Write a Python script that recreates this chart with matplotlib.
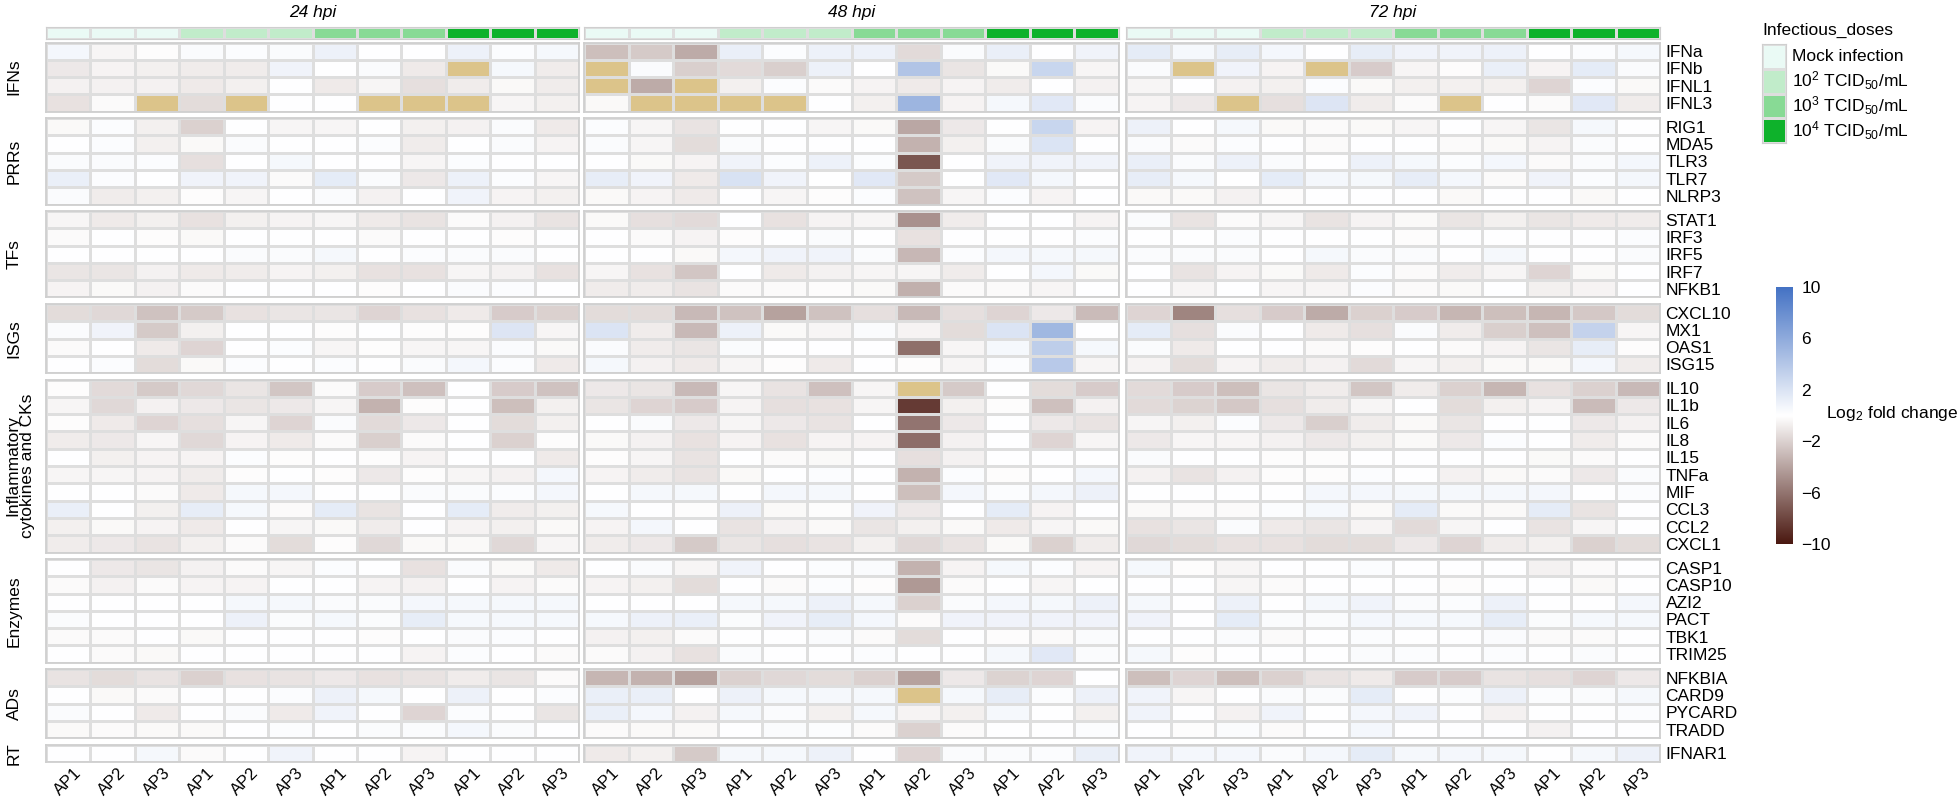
import numpy as np
import matplotlib.pyplot as plt
from matplotlib.colors import LinearSegmentedColormap, ListedColormap, Normalize
from matplotlib.cm import ScalarMappable

plt.rcParams['font.family'] = ['Liberation Sans', 'DejaVu Sans']
plt.rcParams['mathtext.fontset'] = 'custom'
plt.rcParams['mathtext.rm'] = 'Liberation Sans'
plt.rcParams['mathtext.it'] = 'Liberation Sans:italic'

nan = np.nan

# ---- data ----
timepoints = ['24 hpi', '48 hpi', '72 hpi']
isolates = ['AP1', 'AP2', 'AP3']
dose_labels = ['Mock infection', '10$^2$ TCID$_{50}$/mL', '10$^3$ TCID$_{50}$/mL', '10$^4$ TCID$_{50}$/mL']
dose_colors = ['#eafaf5', '#c1ecca', '#88da95', '#0eb22b']
group_names = ['IFNs', 'PRRs', 'TFs', 'ISGs', 'Inflammatory\ncytokines and CKs', 'Enzymes', 'ADs', 'RT']
group_sizes = [4, 5, 5, 4, 10, 6, 4, 1]
genes = ['IFNa', 'IFNb', 'IFNL1', 'IFNL3',
         'RIG1', 'MDA5', 'TLR3', 'TLR7', 'NLRP3',
         'STAT1', 'IRF3', 'IRF5', 'IRF7', 'NFKB1',
         'CXCL10', 'MX1', 'OAS1', 'ISG15',
         'IL10', 'IL1b', 'IL6', 'IL8', 'IL15', 'TNFa', 'MIF', 'CCL3', 'CCL2', 'CXCL1',
         'CASP1', 'CASP10', 'AZI2', 'PACT', 'TBK1', 'TRIM25',
         'NFKBIA', 'CARD9', 'PYCARD', 'TRADD',
         'IFNAR1']

# log2 fold change, columns: Mock, 10^2, 10^3, 10^4 x (AP1, AP2, AP3); nan = not detected
hpi24 = [
    [0.6, -0.4, -0.1, 0.3, 0.2, 0.3, 1.0, 0.0, 0.0, 1.0, 0.2, 0.5],
    [-1.0, -0.5, -0.7, -0.8, -0.8, 0.8, 0.0, 0.3, -0.9, nan, 0.5, -0.8],
    [-0.6, -0.6, -0.6, -0.9, -0.7, 0.0, -0.9, -0.4, -1.4, -0.8, -0.3, -0.8],
    [-1.3, -0.2, nan, -1.5, nan, 0.0, 0.0, nan, nan, nan, -0.4, -0.7],
    [-0.3, 0.2, -0.7, -2.0, 0.0, -0.4, -0.4, 0.0, -0.7, -0.6, 0.3, -0.9],
    [0.0, 0.2, -0.7, -0.3, 0.3, 0.0, 0.0, 0.2, -0.8, 0.0, 0.3, -0.5],
    [0.3, 0.3, 0.2, -1.4, 0.0, 0.5, 0.0, 0.0, -0.4, 0.2, 0.0, 0.0],
    [1.1, 0.2, 0.0, 0.8, 0.8, -0.2, 1.4, 0.3, -1.0, 1.0, 0.2, -0.4],
    [0.3, -0.8, -0.7, -0.1, -0.4, 0.0, 0.3, -0.6, 0.0, 0.8, -0.5, -0.7],
    [-0.4, -0.9, -0.7, -1.3, -0.7, -0.5, -0.4, -0.9, -1.2, -0.2, -0.6, -1.2],
    [-0.2, 0.0, -0.1, -0.3, 0.0, 0.0, 0.0, -0.2, 0.0, 0.0, -0.1, 0.0],
    [0.0, 0.0, 0.0, 0.0, 0.3, 0.3, 0.5, 0.0, 0.2, 0.3, 0.3, 0.0],
    [-1.1, -1.1, -0.6, -0.9, -0.8, -0.5, -0.7, -1.3, -1.3, -0.4, -0.6, -1.3],
    [-0.5, -0.3, -0.6, -0.2, 0.0, 0.0, 0.0, -0.1, 0.0, 0.3, 0.2, 0.0],
    [-1.5, -1.7, -2.6, -2.3, -1.3, -1.1, -1.1, -1.8, -1.3, -0.9, -2.2, -2.0],
    [0.3, 0.8, -2.3, -0.7, 0.0, 0.0, -0.1, 0.0, -0.1, -0.1, 1.8, -0.4],
    [-0.2, 0.0, -0.9, -1.8, 0.0, 0.2, -0.4, -0.1, -0.4, -0.4, 0.3, -0.3],
    [0.0, 0.2, -1.5, -0.3, 0.2, 0.0, 0.2, 0.0, 0.3, 0.6, 0.2, -0.9],
    [-0.1, -1.6, -2.3, -1.7, -1.1, -2.5, -0.2, -2.2, -2.7, 0.0, -2.2, -2.6],
    [-0.4, -1.7, -0.6, -1.0, -1.1, -1.0, -0.4, -3.3, -0.1, 0.0, -2.8, -0.7],
    [-0.1, -0.9, -1.8, -1.4, -0.4, -1.8, 0.3, -1.6, -1.0, 0.0, -1.5, -0.7],
    [-0.8, -1.0, -0.4, -1.7, -0.5, -0.9, -0.2, -2.1, -0.2, 0.0, -2.0, -0.1],
    [0.0, -0.7, -0.5, -0.5, 0.2, -0.1, 0.0, -0.1, -0.5, 0.0, 0.0, -0.9],
    [-0.4, -0.4, -0.5, -0.8, -0.1, 0.0, -0.1, -1.0, -0.1, -0.4, -0.6, 0.6],
    [0.0, 0.0, -0.2, -0.9, 0.5, 0.6, 0.0, 0.0, 0.3, 0.3, 0.2, 0.6],
    [1.1, 0.0, -0.7, 1.3, 0.5, -0.2, 1.4, -1.2, 0.0, 1.4, -0.8, -0.7],
    [-0.7, -0.3, -0.5, -0.9, 0.0, -0.4, -0.3, -0.8, 0.0, -0.5, -0.7, -0.3],
    [-0.8, -1.0, -1.2, -0.7, -0.2, -1.5, -0.1, -1.7, -0.3, -0.3, -1.7, -0.4],
    [0.0, -1.0, -1.1, -0.6, -0.2, -0.4, 0.2, 0.0, -1.3, 0.3, -0.3, -0.9],
    [-0.2, -0.6, -0.2, -0.5, -0.5, 0.0, 0.0, -0.5, -0.6, 0.0, -0.5, -0.2],
    [0.0, 0.0, 0.0, 0.0, 0.5, 0.5, 0.3, 0.3, 0.6, 0.5, 0.5, 0.5],
    [0.3, 0.0, 0.0, 0.0, 1.0, 0.3, 0.5, 0.3, 1.3, 0.5, 0.5, 0.5],
    [-0.2, -0.2, 0.0, -0.3, 0.0, 0.0, 0.0, -0.1, 0.0, 0.3, 0.2, 0.0],
    [0.0, -0.2, -0.3, 0.0, 0.0, 0.0, 0.0, 0.0, -0.5, 0.2, 0.0, -0.2],
    [-1.2, -1.5, -1.2, -2.0, -1.3, -1.2, -1.0, -1.3, -1.2, -0.8, -1.1, -0.2],
    [0.0, -0.3, -0.2, 0.0, 0.0, 0.2, 1.0, 0.5, 0.0, 1.0, 0.0, 0.2],
    [0.3, 0.0, -0.9, 0.0, 0.3, -0.9, 0.8, 0.0, -1.8, 0.2, 0.0, -1.1],
    [-0.3, -0.2, -0.3, -0.3, 0.0, 0.2, 0.0, 0.3, 0.3, 0.6, 0.3, 0.0],
    [0.0, 0.0, 0.5, -0.2, 0.0, 0.8, 0.0, 0.0, -0.5, 0.0, 0.0, 0.0],
]

hpi48 = [
    [-2.8, -2.3, -3.6, 1.1, 0.2, 1.0, 1.0, -1.6, 0.3, 1.1, 0.0, 0.8],
    [nan, 0.3, -2.1, -1.6, -2.1, 1.0, 0.0, 4.2, -1.1, -0.3, 2.9, -0.4],
    [nan, -3.6, nan, -0.7, 0.2, -0.2, -0.5, -0.9, -0.5, -0.8, 0.0, -0.6],
    [-0.3, nan, nan, nan, nan, 0.0, -0.7, 5.2, -0.5, 0.5, 1.6, 0.3],
    [0.2, -0.4, -1.2, 0.0, 0.0, -0.4, -0.3, -3.8, -1.0, 0.0, 2.9, -0.5],
    [0.3, -0.4, -1.5, 0.3, 0.0, 0.0, 0.0, -3.3, -0.7, 0.3, 1.9, 0.0],
    [0.0, -0.3, -0.5, 0.8, 0.2, 1.0, 0.2, -7.3, 0.0, 0.8, 0.8, 0.8],
    [1.3, 0.8, -0.9, 2.1, 0.8, 0.0, 1.6, -2.3, 0.0, 1.6, 0.6, 0.0],
    [-0.3, -0.5, -0.9, 0.0, -0.4, -0.1, 0.2, -2.6, -0.4, 0.2, -0.5, 0.0],
    [-0.3, -1.4, -1.6, 0.0, -1.3, -0.5, -0.4, -4.7, -0.8, 0.0, 0.0, -0.5],
    [0.0, -0.2, -0.5, -0.1, 0.0, 0.3, 0.0, -1.3, 0.0, 0.0, 0.0, 0.2],
    [0.0, 0.0, -0.3, 0.6, 0.8, 0.8, 0.3, -3.1, 0.2, 0.6, 0.5, 0.5],
    [-0.4, -1.3, -2.5, 0.0, -0.9, -0.6, -0.4, -0.4, -0.8, 0.0, 0.6, -0.3],
    [-0.8, -0.8, -1.2, -0.2, -0.2, -0.1, -0.3, -3.4, -0.2, -0.2, -0.4, 0.0],
    [-1.5, -1.5, -3.0, -2.6, -4.0, -2.6, -1.4, -3.0, -1.4, -1.8, -1.0, -2.9],
    [1.9, -0.8, -3.0, 1.0, -0.3, -0.4, 0.3, -0.5, -1.5, 1.9, 5.0, 0.0],
    [0.3, -0.8, -1.1, 0.3, 0.0, 0.0, 0.0, -6.2, -0.4, 0.5, 3.5, 0.5],
    [0.5, -0.6, -0.9, -0.4, -0.1, -0.9, 0.0, -0.1, -0.4, 0.2, 3.8, -0.4],
    [-1.0, -1.1, -3.0, -0.4, -1.2, -2.7, -0.4, nan, -2.3, 0.0, -1.5, -2.2],
    [-1.1, -1.8, -2.2, -0.5, -1.4, -1.3, -0.4, -8.5, -0.7, -0.1, -2.7, -0.6],
    [0.0, 0.3, -1.0, -0.4, -1.0, -1.2, 0.0, -6.0, -1.0, 0.0, -1.0, -1.2],
    [-0.3, -0.6, -1.3, -0.5, -1.3, -0.5, -0.5, -6.3, -0.6, 0.0, -1.8, -0.4],
    [-0.1, -0.4, -1.2, 0.0, -0.2, -0.3, 0.0, -1.4, -0.6, 0.0, 0.0, 0.0],
    [-0.5, -0.8, -1.2, -0.3, 0.0, 0.2, 0.0, -3.3, 0.2, -0.1, 0.0, 0.6],
    [0.0, 0.5, 0.5, 0.0, 0.6, 0.5, 0.0, -2.8, 0.6, 0.2, 0.6, 1.0],
    [0.5, 0.0, -0.1, 1.0, -0.3, -0.1, 0.8, -1.0, 0.0, 1.4, -0.5, 0.0],
    [-0.5, 0.6, 0.0, -1.2, -0.6, -0.3, -1.1, -0.7, -0.3, -0.9, -0.4, -0.3],
    [-0.8, -1.0, -2.3, -1.1, -1.4, -1.2, -0.7, -1.7, -1.2, -0.3, -2.0, -0.8],
    [0.0, 0.3, -0.4, 0.8, 0.0, 0.2, 0.3, -3.3, -0.5, 0.5, 0.2, -0.5],
    [-0.5, -0.7, -1.5, 0.0, -0.2, 0.2, -0.1, -4.4, -0.2, 0.0, -0.4, 0.0],
    [0.0, 0.0, 0.0, 0.5, 0.5, 1.0, 0.5, -2.0, 0.3, 0.6, 0.5, 1.0],
    [0.5, 1.0, 1.1, 0.3, 0.8, 1.3, 0.6, -0.2, 0.8, 0.8, 0.8, 0.8],
    [-0.6, -0.7, -0.2, 0.0, 0.0, 0.3, -0.2, -1.5, 0.0, -0.1, -0.2, 0.3],
    [-0.2, -0.6, -1.3, 0.3, 0.0, 0.0, 0.2, 0.0, 0.0, 0.5, 1.6, 0.3],
    [-3.2, -3.3, -4.0, -2.0, -1.7, -1.5, -2.0, -4.0, -1.0, -1.9, -1.8, 0.0],
    [1.1, 1.1, 0.0, 1.0, 0.5, 0.5, 0.5, nan, 0.5, 1.3, 0.2, 1.0],
    [1.1, 0.6, -0.6, 0.5, 0.3, -0.7, 0.5, -0.5, -0.7, 0.5, 0.0, -0.7],
    [-0.2, -0.3, -0.3, 0.0, 0.3, 0.2, -0.2, -2.0, -0.2, 0.0, 0.0, 0.2],
    [-0.9, -0.7, -2.3, 0.5, 0.5, 1.0, 0.0, -1.8, 0.3, 0.3, 0.2, 1.1],
]

hpi72 = [
    [1.4, 0.5, 1.3, 0.6, 0.0, 1.3, 0.8, 0.8, 1.0, 0.0, 0.2, 0.5],
    [0.3, nan, 0.8, -0.5, nan, -2.2, -0.4, -0.1, 1.1, -0.5, 1.4, 0.3],
    [-0.4, 0.0, -0.6, -0.7, 0.2, -0.3, -0.7, -0.7, -0.7, -1.8, 0.2, -0.3],
    [-0.5, -1.0, nan, -1.4, 1.8, -0.8, -0.2, nan, 0.0, -0.2, 1.6, -0.8],
    [1.0, 0.0, 0.5, -0.3, -0.2, -0.3, -0.4, 0.0, -0.4, -1.1, 0.5, 0.0],
    [0.3, -0.2, 0.2, 0.0, -0.2, 0.0, 0.0, -0.2, -0.3, -0.5, 0.3, 0.0],
    [1.1, 0.3, 1.0, 0.3, 0.0, 1.0, 0.5, 0.2, 0.6, -0.2, 0.3, 0.6],
    [1.3, 0.5, 0.0, 1.4, 0.6, 0.5, 1.3, 0.6, -0.2, 0.8, 0.2, 0.6],
    [-0.3, -0.3, -0.6, -0.1, 0.0, 0.0, 0.0, -0.3, 0.0, 0.0, -0.3, 0.0],
    [0.3, -1.2, -0.2, -0.4, -1.2, -0.5, -0.3, -1.1, -0.7, -1.1, -0.9, -0.8],
    [0.0, 0.0, 0.2, 0.0, 0.0, 0.0, -0.1, 0.0, 0.0, 0.0, 0.0, 0.2],
    [0.3, 0.3, 0.3, 0.0, 0.5, 0.3, 0.3, 0.0, 0.5, 0.0, 0.0, 0.3],
    [0.0, -1.2, -0.5, -0.3, -0.9, 0.2, -0.2, -0.8, -0.4, -1.8, -0.3, 0.0],
    [0.0, -0.4, 0.0, -0.4, -0.4, 0.2, -0.2, -0.3, 0.0, -0.7, -0.5, 0.0],
    [-1.8, -5.3, -1.4, -2.2, -3.6, -2.0, -2.2, -3.2, -2.8, -3.2, -2.4, -1.5],
    [1.4, -1.4, 0.3, 0.0, -0.9, -1.4, 0.3, -0.8, -2.1, -2.7, 3.2, -0.4],
    [0.3, -0.9, 0.0, 0.0, -0.2, -0.1, 0.0, -0.2, -0.5, -1.1, 1.3, -0.1],
    [-0.5, -1.5, -0.5, -0.8, -0.6, -1.6, -0.4, -0.7, -0.3, -0.3, 0.6, -0.8],
    [-1.6, -2.2, -2.8, -1.1, -0.8, -2.5, -0.8, -2.0, -3.2, -1.3, -2.0, -3.0],
    [-1.6, -1.9, -2.4, -1.4, -0.8, -0.4, 0.0, -1.5, -0.7, -0.5, -2.9, -1.0],
    [-0.4, -0.7, 0.2, -1.0, -2.1, -0.8, -0.3, -1.1, 0.0, 0.0, -1.0, -0.6],
    [-1.0, -0.4, -0.4, -0.6, -1.0, -0.7, -0.3, -1.0, 0.2, 0.0, -0.8, -0.2],
    [0.3, 0.0, 0.0, -0.1, -0.1, 0.0, 0.0, 0.0, 0.0, -0.3, -0.2, 0.0],
    [-0.6, -1.2, -0.6, -0.1, -0.1, 0.2, 0.0, -0.6, -0.3, -0.2, -1.0, 0.3],
    [0.0, 0.0, 0.0, 0.0, 0.6, 0.6, 0.5, 0.5, 0.5, 0.6, 0.0, 0.2],
    [-0.3, -0.2, -0.2, 0.2, 0.5, -0.3, 1.4, -0.3, -0.3, 1.4, -1.2, 0.0],
    [-1.3, -1.1, 0.3, -0.9, -1.1, -0.5, -1.6, -0.4, 0.0, -1.2, -0.4, 0.0],
    [-1.7, -1.5, -1.3, -1.3, -1.5, -1.5, -1.0, -1.8, -0.8, -0.7, -2.0, -1.5],
    [0.5, -0.1, -0.4, 0.0, 0.0, 0.2, 0.0, 0.0, 0.0, -0.6, -0.2, 0.0],
    [0.0, 0.0, -0.4, -0.2, 0.0, 0.0, 0.0, -0.1, 0.0, 0.0, -0.3, 0.0],
    [0.5, 0.0, 1.0, 0.0, 0.5, 0.8, 0.3, 0.2, 1.0, 0.0, 0.0, 0.6],
    [0.8, 0.0, 1.4, 0.3, 0.3, 0.6, 0.5, 0.5, 1.3, 0.3, 0.5, 0.5],
    [0.0, 0.0, 0.3, -0.2, 0.0, 0.2, 0.0, 0.0, 0.3, -0.2, -0.2, 0.0],
    [0.5, -0.1, 0.0, 0.0, 0.0, 0.3, 0.2, 0.0, 0.2, 0.0, 0.3, 0.0],
    [-2.8, -1.8, -2.8, -2.0, -1.2, -0.9, -2.2, -2.2, -1.2, -1.4, -1.8, -1.0],
    [0.8, -0.4, 0.0, 0.3, 0.3, 1.4, 0.0, 0.2, 1.0, 0.2, 0.3, 0.5],
    [0.8, 0.0, -0.6, 0.8, 0.0, 0.6, 0.8, 0.0, -0.6, 0.0, 0.0, 0.2],
    [0.0, -0.1, 0.3, -0.2, 0.0, 0.6, 0.0, 0.0, 0.0, -0.6, 0.0, 0.0],
    [0.8, 0.6, 0.6, 0.3, 0.6, 1.4, 0.5, 0.6, 0.5, 0.0, 0.5, 1.0],
]

colorbar_ticks = [10, 6, 2, -2, -6, -10]

# ---- figure ----
W, H = 1960, 798
fig = plt.figure(figsize=(W / 100, H / 100), dpi=100)


def px_axes(x0, y0, x1, y1):
    return fig.add_axes([x0 / W, 1 - y1 / H, (x1 - x0) / W, (y1 - y0) / H])


cmap = LinearSegmentedColormap.from_list('lfc', ['#4a1810', '#ffffff', '#4472c4'])
cmap.set_bad('#dcc48a')
norm = Normalize(-10, 10)
edge = '#dedede'
border = '#cfcfcf'
fs = 12.5

panel_x = [(46, 579), (584, 1119), (1126, 1660)]
row_h, gap, top = 17.3, 6.4, 42.5
n_iso = len(isolates)
dose_idx = np.repeat(np.arange(len(dose_labels)), n_iso)[None, :]

for p, (tp, data) in enumerate(zip(timepoints, [hpi24, hpi48, hpi72])):
    x0, x1 = panel_x[p]
    arr = np.array(data, dtype=float)
    ncol = arr.shape[1]

    # dose annotation bar
    axb = px_axes(x0, 27, x1, 38.5)
    axb.pcolormesh(dose_idx, cmap=ListedColormap(dose_colors), vmin=-0.5, vmax=3.5,
                   edgecolors=edge, linewidth=1)
    axb.set_xlim(0, ncol)
    axb.set_xticks([]); axb.set_yticks([])
    for s in axb.spines.values():
        s.set_color(border)
    axb.set_title(tp, style='italic', fontsize=fs, pad=7)

    y = top
    r0 = 0
    for g, (gname, n) in enumerate(zip(group_names, group_sizes)):
        ax = px_axes(x0, y, x1, y + n * row_h)
        sub = np.ma.masked_invalid(arr[r0:r0 + n])
        ax.pcolormesh(sub, cmap=cmap, norm=norm, edgecolors=edge, linewidth=1)
        ax.set_xlim(0, ncol)
        ax.set_ylim(n, 0)
        ax.set_xticks([]); ax.set_yticks([])
        for s in ax.spines.values():
            s.set_color(border)
            s.set_linewidth(1.3)
        if p == 2:
            ax.yaxis.tick_right()
            ax.set_yticks(np.arange(n) + 0.5)
            ax.set_yticklabels(genes[r0:r0 + n], fontsize=fs)
            ax.tick_params(axis='y', length=0, pad=4)
        if p == 0:
            xc = 20 if '\n' in gname else 14
            fig.text(xc / W, 1 - (y + n * row_h / 2) / H, gname, rotation=90,
                     ha='center', va='center', fontsize=fs, linespacing=1.0)
        if g == len(group_names) - 1:
            ax.set_xticks(np.arange(ncol) + 0.62)
            ax.set_xticklabels(isolates * len(dose_labels), rotation=45, ha='right',
                               rotation_mode='anchor', fontsize=12)
            ax.tick_params(axis='x', length=0, pad=2)
        y += n * row_h + gap
        r0 += n

# dose legend
axl = px_axes(1762, 44, 1786, 143)
axl.pcolormesh(np.arange(len(dose_labels))[:, None], cmap=ListedColormap(dose_colors),
               vmin=-0.5, vmax=3.5, edgecolors=edge, linewidth=1)
axl.set_xlim(0, 1); axl.set_ylim(len(dose_labels), 0)
axl.set_xticks([]); axl.set_yticks([])
for s in axl.spines.values():
    s.set_color(border)
for i, lab in enumerate(dose_labels):
    axl.text(1.25, i + 0.5, lab, va='center', ha='left', fontsize=fs, clip_on=False)
axl.text(0, -0.25, 'Infectious_doses', va='bottom', ha='left', fontsize=fs, clip_on=False)

# colorbar
cax = px_axes(1776, 287, 1793, 544)
cb = fig.colorbar(ScalarMappable(norm=norm, cmap=cmap), cax=cax)
cb.set_ticks(colorbar_ticks)
cb.set_ticklabels([str(t).replace('-', '\u2212') for t in colorbar_ticks])
cb.outline.set_visible(False)
cax.tick_params(length=0, labelsize=fs, pad=6)
fig.text(1826 / W, 1 - 413 / H, 'Log$_2$ fold change', va='center', ha='left', fontsize=fs)

fig.savefig('out.png', dpi=100)
